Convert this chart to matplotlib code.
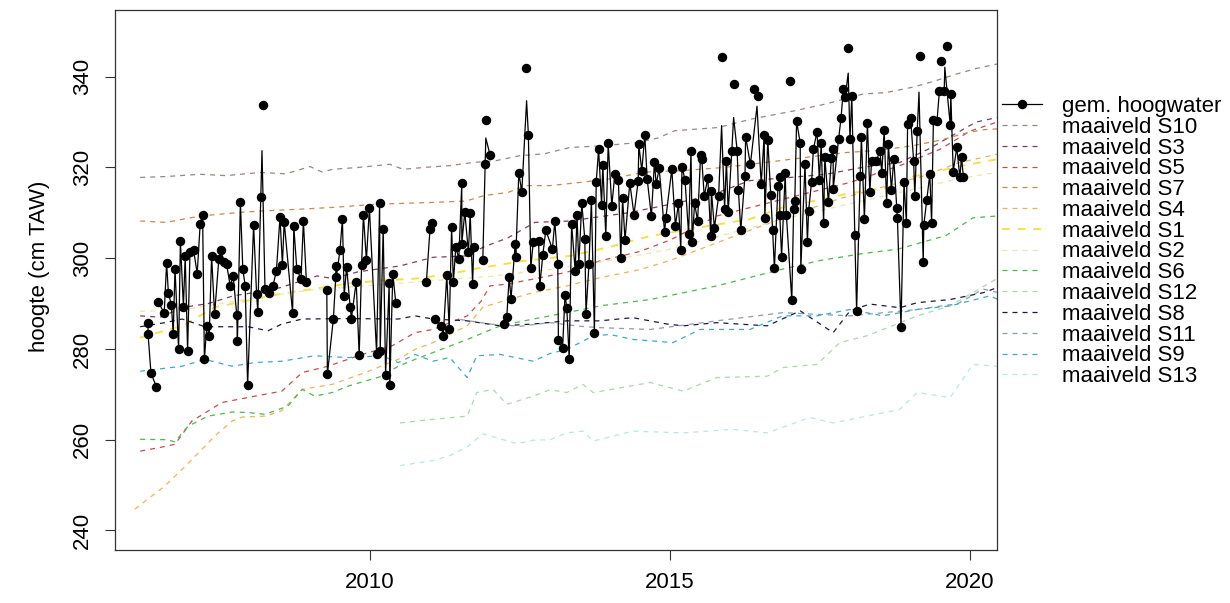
import numpy as np
import matplotlib
matplotlib.use('Agg')
import matplotlib.pyplot as plt
from matplotlib.lines import Line2D

plt.rcParams['font.family'] = ['Liberation Sans', 'DejaVu Sans']

# gemiddeld hoogwater (meetpunten op de lijn)
hw_t = [2006.30, 2006.30, 2006.35, 2006.44, 2006.47, 2006.57, 2006.61, 2006.64, 2006.69, 2006.72,
        2006.75, 2006.81, 2006.84, 2006.89, 2006.92, 2006.96, 2007.00, 2007.06, 2007.12, 2007.17,
        2007.21, 2007.24, 2007.28, 2007.32, 2007.36, 2007.41, 2007.48, 2007.52, 2007.56, 2007.61,
        2007.67, 2007.72, 2007.78, 2007.79, 2007.84, 2007.88, 2007.92, 2007.96, 2008.06, 2008.11,
        2008.13, 2008.18, 2008.25, 2008.32, 2008.38, 2008.44, 2008.50, 2008.54, 2008.57,
        2008.71, 2008.73, 2008.78, 2008.85, 2008.89, 2008.94, 2009.28, 2009.29, 2009.39, 2009.44,
        2009.44, 2009.50, 2009.54, 2009.57, 2009.61, 2009.67, 2009.69, 2009.77, 2009.82, 2009.86,
        2009.89, 2009.94, 2009.99, 2010.11, 2010.16, 2010.17, 2010.22, 2010.26, 2010.32, 2010.33,
        2010.38, 2010.43, 2010.94, 2011.00, 2011.04, 2011.08, 2011.19, 2011.22, 2011.28, 2011.32,
        2011.36, 2011.39, 2011.43, 2011.48, 2011.53, 2011.53, 2011.58, 2011.64, 2011.67, 2011.71,
        2011.73, 2011.88, 2011.92, 2012.00, 2012.24, 2012.28, 2012.32, 2012.35, 2012.42, 2012.43,
        2012.48, 2012.53, 2012.64, 2012.68, 2012.72, 2012.81, 2012.83, 2012.88, 2012.93, 2013.04,
        2013.08, 2013.13, 2013.14, 2013.21, 2013.25, 2013.28, 2013.32, 2013.36, 2013.42, 2013.45,
        2013.48, 2013.53, 2013.58, 2013.60, 2013.65, 2013.69, 2013.74, 2013.77, 2013.81, 2013.86,
        2013.88, 2013.93, 2013.97, 2014.03, 2014.08, 2014.14, 2014.18, 2014.21, 2014.25, 2014.33,
        2014.40, 2014.47, 2014.48, 2014.53, 2014.58, 2014.62, 2014.69, 2014.74, 2014.77, 2014.82,
        2014.91, 2014.93, 2015.03, 2015.09, 2015.14, 2015.18, 2015.20, 2015.25, 2015.31, 2015.35,
        2015.37, 2015.41, 2015.46, 2015.51, 2015.53, 2015.57, 2015.63, 2015.68, 2015.69, 2015.74,
        2015.81, 2015.91, 2015.94, 2015.97, 2016.03, 2016.12, 2016.14, 2016.18, 2016.25, 2016.26,
        2016.34, 2016.52, 2016.57, 2016.58, 2016.63, 2016.68, 2016.71, 2016.74, 2016.80, 2016.83,
        2016.83, 2016.86, 2016.92, 2016.94, 2017.03, 2017.06, 2017.08, 2017.11, 2017.17, 2017.18,
        2017.25, 2017.29, 2017.31, 2017.36, 2017.39, 2017.45, 2017.49, 2017.52, 2017.56, 2017.58,
        2017.64, 2017.69, 2017.72, 2017.72, 2017.81, 2017.85, 2017.89, 2017.92, 2018.00, 2018.03,
        2018.08, 2018.11, 2018.17, 2018.19, 2018.24, 2018.29, 2018.33, 2018.36, 2018.44, 2018.50,
        2018.53, 2018.57, 2018.61, 2018.64, 2018.69, 2018.73, 2018.78, 2018.79, 2018.85, 2018.90,
        2018.94, 2018.96, 2019.01, 2019.06, 2019.08, 2019.12, 2019.22, 2019.23, 2019.28, 2019.33,
        2019.36, 2019.39, 2019.45, 2019.49, 2019.57, 2019.67, 2019.68, 2019.72, 2019.78, 2019.83,
        2019.86, 2019.89]
hw_v = [285.8, 283.4, 274.6, 271.7, 290.4, 287.9, 299.0, 292.3, 289.7, 283.4,
        297.7, 279.9, 303.7, 289.3, 300.5, 279.6, 301.4, 301.8, 296.6, 307.6,
        309.6, 277.7, 285.1, 282.9, 300.5, 287.6, 299.8, 301.8, 299.2, 298.7,
        293.9, 296.0, 287.4, 281.8, 312.3, 297.6, 293.9, 272.0, 307.3, 292.1,
        288.2, 313.5, 293.2, 292.3, 293.8, 297.2, 309.1, 298.5, 308.0,
        287.9, 307.0, 297.6, 295.4, 308.2, 294.8, 293.0, 274.4, 286.7, 298.3,
        295.9, 301.8, 308.6, 291.7, 298.1, 289.3, 286.7, 294.8, 278.6, 298.5,
        309.6, 299.6, 311.0, 279.0, 312.1, 279.6, 306.4, 274.3, 294.6, 272.0,
        296.6, 290.1, 294.8, 306.4, 307.7, 286.7, 285.1, 282.9, 296.2, 284.5,
        306.8, 294.8, 302.5, 299.9, 316.6, 303.2, 310.2, 301.3, 309.9, 294.4,
        302.5, 299.6, 320.7, 322.8, 285.4, 287.1, 295.9, 291.0, 303.1, 300.3,
        318.8, 314.6, 327.1, 297.8, 303.5, 303.7, 293.9, 300.7, 306.2, 302.0,
        308.2, 298.7, 281.9, 280.3, 291.9, 289.1, 277.7, 307.6, 297.2, 309.6,
        298.7, 312.1, 304.2, 287.8, 298.8, 312.8, 283.6, 316.7, 324.0, 311.7,
        320.6, 304.9, 325.3, 311.5, 318.5, 317.2, 300.0, 313.2, 304.0, 316.6,
        309.6, 317.1, 325.1, 319.3, 327.1, 317.4, 309.2, 321.2, 316.3, 319.8,
        305.7, 308.8, 319.6, 307.1, 312.1, 301.8, 320.1, 317.3, 305.3, 323.7,
        303.6, 312.1, 308.2, 322.8, 321.8, 313.7, 317.6, 304.9, 314.9, 306.6,
        313.7, 310.8, 321.5, 310.2, 323.7, 323.7, 315.0, 306.2, 318.2, 326.8,
        320.7, 316.3, 327.1, 308.8, 326.1, 313.9, 306.2, 297.8, 316.0, 317.8,
        309.5, 300.3, 318.7, 309.5, 290.7, 310.8, 312.6, 330.2, 325.4, 297.6,
        320.7, 303.5, 310.4, 316.9, 324.0, 327.9, 317.2, 325.5, 307.7, 322.2,
        312.4, 322.1, 324.0, 315.2, 326.3, 330.8, 337.3, 335.5, 326.3, 335.8,
        305.1, 288.4, 318.2, 326.8, 308.6, 329.9, 314.5, 321.5, 321.5, 323.7,
        318.8, 328.3, 312.1, 325.1, 315.1, 321.9, 311.0, 308.8, 284.9, 316.7,
        307.7, 329.6, 331.0, 321.5, 313.7, 328.0, 299.1, 307.3, 312.8, 318.5,
        307.7, 330.4, 330.2, 336.9, 336.9, 329.4, 336.2, 319.1, 324.4, 317.9,
        322.2, 317.8]

# losse meetpunten boven de lijn
hw_extra_t = [2008.22, 2011.94, 2012.60, 2015.86, 2016.07, 2016.40, 2016.46, 2017.00,
              2017.96, 2019.17, 2019.52, 2019.62]
hw_extra_v = [333.8, 330.5, 341.9, 344.4, 338.5, 337.3, 335.7, 339.1,
              346.3, 344.6, 343.4, 346.8]

# toppen van de lijn zonder meetpunt
peak_t = [2008.20, 2011.93, 2012.61, 2015.86, 2016.06, 2016.45, 2017.97, 2019.15, 2019.58]
peak_v = [323.7, 326.5, 334.7, 329.2, 331.0, 333.5, 340.8, 336.6, 342.1]

# onderbrekingen in de lijn
line_breaks = [2006.455, 2009.10, 2010.70, 2011.06, 2011.80, 2012.10]

# maaiveld per peilbuis
S10_t = [2006.17, 2006.6, 2007.17, 2007.6, 2008.17, 2008.6, 2009.0, 2009.2, 2009.38, 2009.8,
         2010.33, 2010.55, 2010.9, 2011.33, 2011.72, 2012.1, 2012.5, 2012.9, 2013.33, 2013.9,
         2014.47, 2014.8, 2015.08, 2015.8, 2016.37, 2017.08, 2017.6, 2018.22, 2018.6, 2019.05,
         2019.4, 2019.78, 2020.1, 2020.45]
S10_v = [317.8, 318.0, 318.5, 318.2, 318.9, 318.6, 320.2, 319.0, 319.6, 320.0,
         320.7, 319.6, 320.0, 320.4, 321.1, 321.5, 322.6, 323.0, 324.4, 324.8,
         325.5, 326.5, 328.1, 328.8, 330.7, 332.5, 334.0, 336.2, 336.5, 337.7,
         339.0, 340.6, 341.8, 342.8]

S3_t = [2006.17, 2006.5, 2006.9, 2007.3, 2007.72, 2008.1, 2008.5, 2009.12, 2009.38, 2009.8,
        2010.5, 2011.05, 2011.6, 2011.9, 2012.3, 2012.75, 2013.33, 2013.75, 2014.3, 2014.9,
        2015.4, 2015.8, 2016.33, 2017.0, 2017.6, 2018.2, 2018.83, 2019.3, 2019.7, 2020.1, 2020.45]
S3_v = [287.3, 287.0, 289.2, 290.0, 291.7, 292.5, 293.5, 296.1, 295.5, 297.0,
        298.3, 300.2, 300.5, 302.5, 304.5, 307.9, 308.2, 309.0, 310.0, 311.6,
        313.0, 314.5, 317.1, 317.8, 318.5, 320.0, 321.1, 324.0, 327.0, 330.0, 331.0]

S5_t = [2006.17, 2006.5, 2006.75, 2007.03, 2007.53, 2008.08, 2008.53, 2008.87, 2009.3, 2009.87,
        2010.37, 2010.75, 2011.05, 2011.62, 2011.85, 2012.0, 2012.28, 2012.72, 2013.28, 2013.83,
        2014.5, 2015.0, 2015.78, 2016.88, 2018.0, 2018.83, 2019.5, 2020.0, 2020.45]
S5_v = [257.5, 258.3, 259.0, 264.1, 268.2, 269.6, 270.7, 274.8, 276.2, 278.8,
        280.7, 283.6, 284.3, 287.3, 290.5, 293.9, 294.3, 295.4, 296.9, 299.4,
        301.5, 304.0, 309.3, 313.0, 316.7, 320.4, 324.0, 328.0, 330.0]

S7_t = [2006.17, 2006.6, 2007.17, 2007.83, 2008.17, 2008.83, 2009.38, 2010.1, 2011.05, 2011.6,
        2011.9, 2012.3, 2012.6, 2013.0, 2013.5, 2014.0, 2014.6, 2015.2, 2015.9, 2016.83,
        2017.5, 2017.95, 2018.5, 2019.05, 2019.5, 2019.88, 2020.2, 2020.45]
S7_v = [308.2, 307.9, 309.3, 310.1, 310.4, 310.8, 311.2, 311.9, 312.3, 312.6,
        313.8, 314.5, 316.0, 316.0, 316.7, 317.5, 319.0, 319.3, 320.0, 321.5,
        322.6, 323.3, 323.8, 324.8, 326.0, 327.4, 328.3, 328.5]

S4_t = [2006.08, 2006.58, 2006.87, 2007.2, 2007.42, 2007.7, 2007.87, 2008.25, 2008.53, 2008.87,
        2009.37, 2009.92, 2010.47, 2010.75, 2011.05, 2011.62, 2011.88, 2012.33, 2012.72, 2013.28,
        2013.83, 2014.5, 2015.0, 2015.6, 2016.3, 2017.08, 2017.8, 2018.5, 2019.2, 2019.8, 2020.45]
S4_v = [244.7, 249.8, 253.5, 257.9, 260.9, 264.1, 265.0, 265.2, 266.4, 271.1,
        272.2, 274.8, 277.7, 279.9, 281.4, 285.1, 289.2, 291.0, 292.4, 293.9,
        295.7, 297.5, 299.5, 302.5, 306.0, 309.8, 313.0, 315.5, 318.0, 321.0, 322.9]

S1_t = [2006.17, 2006.87, 2007.42, 2007.97, 2008.53, 2009.08, 2009.63, 2010.2, 2010.75, 2011.33,
        2011.72, 2012.55, 2013.33, 2014.0, 2014.67, 2015.5, 2016.33, 2016.83, 2017.95, 2018.83,
        2019.05, 2019.88, 2020.45]
S1_v = [282.5, 285.1, 289.2, 290.7, 292.2, 293.3, 294.4, 295.1, 295.5, 296.5,
        297.6, 299.4, 300.5, 302.5, 304.9, 306.8, 308.6, 311.0, 314.2, 316.0,
        318.0, 320.4, 321.8]

S2_t = [2006.17, 2006.8, 2007.5, 2008.2, 2009.0, 2010.0, 2011.0, 2012.0, 2013.0, 2014.0,
        2015.0, 2016.0, 2017.0, 2018.0, 2019.0, 2019.8, 2020.45]
S2_v = [288.3, 288.5, 290.0, 291.5, 293.0, 294.0, 295.0, 296.0, 297.5, 299.5,
        302.0, 305.5, 309.0, 312.0, 315.0, 317.5, 318.9]

S6_t = [2006.17, 2006.63, 2006.75, 2006.87, 2006.97, 2007.3, 2007.7, 2007.97, 2008.25, 2008.63,
        2008.87, 2009.08, 2009.37, 2009.63, 2010.2, 2010.47, 2010.75, 2011.62, 2012.17, 2012.72,
        2013.28, 2013.83, 2014.67, 2015.78, 2016.88, 2017.5, 2018.2, 2018.8, 2019.6, 2020.05, 2020.45]
S6_v = [260.1, 260.0, 259.5, 261.5, 263.0, 265.2, 266.1, 266.0, 265.6, 267.4,
        271.1, 269.6, 270.4, 271.8, 274.0, 276.2, 277.7, 282.1, 285.1, 286.6,
        288.0, 289.5, 290.9, 293.9, 297.6, 299.5, 301.0, 302.0, 305.0, 308.9, 309.3]

S12_t = [2010.5, 2011.05, 2011.62, 2011.78, 2012.05, 2012.28, 2012.72, 2013.0, 2013.28, 2013.55,
         2013.72, 2014.67, 2015.22, 2015.78, 2016.62, 2016.88, 2017.45, 2017.83, 2018.28, 2018.55,
         2019.12, 2019.67, 2020.33, 2020.45]
S12_v = [263.7, 264.5, 265.2, 270.4, 271.1, 267.8, 269.6, 271.0, 270.4, 272.2,
         270.4, 272.6, 270.7, 273.7, 274.0, 275.9, 276.6, 281.4, 282.9, 284.3,
         287.3, 289.5, 294.6, 295.5]

S8_t = [2006.17, 2006.58, 2006.87, 2007.25, 2007.97, 2008.3, 2008.53, 2008.87, 2009.63, 2010.47,
        2010.75, 2011.05, 2011.62, 2012.17, 2012.72, 2013.28, 2013.83, 2014.38, 2014.95, 2015.22,
        2015.78, 2016.62, 2017.17, 2017.72, 2018.0, 2018.33, 2018.83, 2019.12, 2019.67, 2020.22,
        2020.45]
S8_v = [284.9, 285.8, 286.6, 284.9, 284.9, 284.0, 285.5, 286.6, 286.7, 286.6,
        287.3, 286.6, 286.2, 285.1, 285.5, 286.2, 286.2, 286.9, 285.5, 285.1,
        285.8, 285.1, 288.4, 283.6, 288.4, 289.9, 289.1, 290.2, 290.9, 292.4,
        293.5]

S11_t = [2011.5, 2012.0, 2012.5, 2013.0, 2013.5, 2013.83, 2014.67, 2015.78, 2016.88, 2018.0,
         2019.12, 2019.8, 2020.22, 2020.45]
S11_v = [286.5, 285.5, 285.0, 285.8, 285.0, 284.7, 284.3, 286.2, 288.0, 287.3,
         288.7, 290.0, 293.2, 292.5]

S9_t = [2006.17, 2006.87, 2007.25, 2007.7, 2008.08, 2008.53, 2009.08, 2009.63, 2010.2, 2010.47,
        2010.75, 2011.05, 2011.33, 2011.62, 2011.78, 2012.17, 2012.72, 2013.0, 2013.28, 2013.72,
        2014.0, 2014.38, 2015.05, 2015.5, 2016.33, 2016.88, 2017.45, 2018.0, 2018.55, 2019.12,
        2019.67, 2020.33, 2020.45]
S9_v = [275.1, 276.2, 277.7, 276.2, 277.0, 277.3, 278.5, 278.1, 278.5, 277.0,
        278.8, 277.3, 278.1, 273.7, 278.5, 278.8, 277.3, 279.0, 279.9, 282.9,
        283.2, 282.1, 281.4, 284.3, 284.3, 287.3, 287.3, 288.7, 287.3, 288.7,
        289.5, 291.7, 291.0]

S13_t = [2010.5, 2011.05, 2011.33, 2011.62, 2011.88, 2012.17, 2012.45, 2012.72, 2013.0, 2013.28,
         2013.55, 2013.72, 2014.38, 2015.22, 2016.05, 2016.62, 2017.33, 2017.72, 2018.28, 2018.83,
         2019.12, 2019.67, 2020.05, 2020.45]
S13_v = [254.3, 255.4, 256.5, 258.4, 261.3, 260.2, 259.1, 259.9, 260.0, 261.5,
         261.9, 259.7, 261.9, 261.5, 262.3, 261.5, 264.9, 263.7, 265.2, 266.7,
         270.4, 269.3, 276.6, 276.2]

# legende-volgorde
series = [
    ('maaiveld S10', S10_t, S10_v, '#9c8484'),
    ('maaiveld S3', S3_t, S3_v, '#7b3f63'),
    ('maaiveld S5', S5_t, S5_v, '#c0504d'),
    ('maaiveld S7', S7_t, S7_v, '#c98a4b'),
    ('maaiveld S4', S4_t, S4_v, '#e8b55a'),
    ('maaiveld S1', S1_t, S1_v, '#f2e14c'),
    ('maaiveld S2', S2_t, S2_v, '#e5e8b0'),
    ('maaiveld S6', S6_t, S6_v, '#4db84d'),
    ('maaiveld S12', S12_t, S12_v, '#a9d9a9'),
    ('maaiveld S8', S8_t, S8_v, '#1b1b3a'),
    ('maaiveld S11', S11_t, S11_v, '#8a9cae'),
    ('maaiveld S9', S9_t, S9_v, '#3fa9c4'),
    ('maaiveld S13', S13_t, S13_v, '#b9e6ea'),
]

fig = plt.figure(figsize=(12.3, 6.03), dpi=100)
ax = fig.add_axes([115/1230, 1 - 550/603, (997 - 115)/1230, 540/603])

handles = [Line2D([], [], color='black', lw=0.9, marker='o', markersize=5.8)]
labels = ['gem. hoogwater']
for name, t, v, col in series:
    lw = 1.4 if name == 'maaiveld S1' else 0.9
    ax.plot(t, v, color=col, lw=lw, dashes=(4, 4))
    handles.append(Line2D([], [], color=col, lw=lw, dashes=(4, 4)))
    labels.append(name)

# lijn met onderbrekingen
lt = np.concatenate([hw_t, peak_t, line_breaks])
lv = np.concatenate([hw_v, peak_v, np.full(len(line_breaks), np.nan)])
order = np.argsort(lt, kind='stable')
ax.plot(lt[order], lv[order], color='black', lw=0.9)
ax.plot(hw_t + hw_extra_t, hw_v + hw_extra_v, 'o', color='black', markersize=5.8)

ax.set_xlim(2005.75, 2020.45)
ax.set_ylim(235.7, 354.7)
ax.set_xticks([2010, 2015, 2020])
ax.set_yticks([240, 260, 280, 300, 320, 340])
ax.tick_params(length=7, width=0.8, labelsize=16, pad=9, color='#333333')
for lab in ax.get_yticklabels():
    lab.set_rotation(90)
    lab.set_va('center')
for s in ax.spines.values():
    s.set_linewidth(0.9)
    s.set_color('#333333')

fig.text(40/1230, 1 - 266/603, 'hoogte (cm TAW)', rotation=90, ha='center', va='center', fontsize=16)

fig.legend(handles, labels, loc='upper left', bbox_to_anchor=(1002/1230, 1 - 96/603),
           frameon=False, fontsize=16, borderpad=0, borderaxespad=0,
           handlelength=1.8, handletextpad=0.9, labelspacing=-0.01)

fig.savefig('out.png', dpi=100)
